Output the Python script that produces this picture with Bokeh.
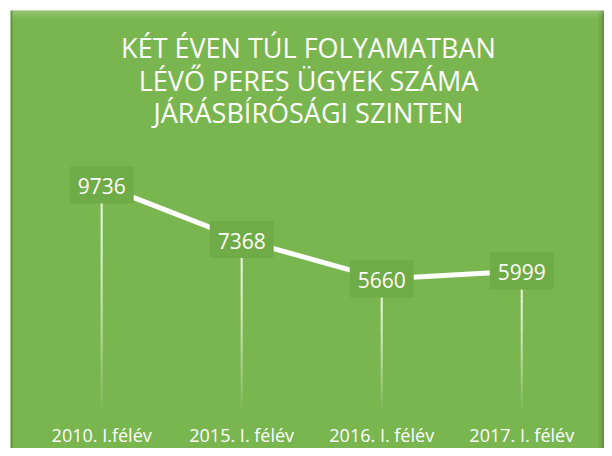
from bokeh.plotting import figure
from bokeh.models import Range1d, Label, ColumnDataSource, BoxAnnotation
from bokeh.core.properties import value
from bokeh.embed import file_html
from bokeh.resources import INLINE

# ---- data ----
categories = ["2010. I.félév", "2015. I. félév", "2016. I. félév", "2017. I. félév"]
values = [9736, 7368, 5660, 5999]
title_lines = ["KÉT ÉVEN TÚL FOLYAMATBAN", "LÉVŐ PERES ÜGYEK SZÁMA", "JÁRÁSBÍRÓSÁGI SZINTEN"]

GREEN = "#7AB650"
BOX = "#6FAC47"
FONT = "Open Sans"

xs = list(range(len(categories)))

W, H = 604, 448
FW, FH = W - 10, H - 10  # frame (green panel) size

p = figure(width=W, height=H, output_backend="svg", toolbar_location=None,
           x_range=Range1d(-0.651, 3.591), y_range=Range1d(-1707, 17320),
           x_axis_location=None, y_axis_location=None,
           min_border_left=10, min_border_right=0, min_border_top=10, min_border_bottom=0)
p.background_fill_color = GREEN
p.border_fill_color = "white"
p.outline_line_color = None
p.grid.visible = False

# panel bevel
for b, a in [(FH - 8, 0.05), (FH - 5, 0.07), (FH - 3, 0.08)]:
    p.add_layout(BoxAnnotation(bottom=b, bottom_units="screen", fill_color="white",
                               fill_alpha=a, line_color=None, level="underlay"))
p.add_layout(BoxAnnotation(right=2, right_units="screen", fill_color="#4F8A30",
                           fill_alpha=0.7, line_color=None, level="underlay"))
for l, a in [(FW - 6, 0.06), (FW - 3, 0.12)]:
    p.add_layout(BoxAnnotation(left=l, left_units="screen", fill_color="black",
                               fill_alpha=a, line_color=None, level="underlay"))

# drop lines with fading gradient
N = 30
sx0, sy0, sx1, sy1, sa = [], [], [], [], []
for x, v in zip(xs, values):
    for k in range(N):
        sx0.append(x); sx1.append(x)
        sy0.append(v * (1 - k / N)); sy1.append(v * (1 - (k + 1) / N))
        sa.append(0.9 - 0.85 * (k / (N - 1)) ** 1.6)
p.segment(x0=sx0, y0=sy0, x1=sx1, y1=sy1, line_color="white", line_alpha=sa, line_width=2)

# main line
p.line(xs, values, line_color="white", line_width=5)

# label boxes
src = ColumnDataSource(dict(x=xs, y=values, t=[str(v) for v in values]))
p.rect(x="x", y="y", width=64, height=37, width_units="screen", height_units="screen",
       fill_color=BOX, line_color=None, source=src)
p.text(x="x", y="y", text="t", source=src, text_align="center", text_baseline="middle",
       text_font=value(FONT), text_font_size="21px", text_color="white", y_offset=1)

# title
for line, y in zip(title_lines, [401, 368.5, 336]):
    p.add_layout(Label(x=298, y=y, x_units="screen", y_units="screen", text=line,
                       text_align="center", text_baseline="middle",
                       text_font=FONT, text_font_size="27px", text_color="white"))

# category labels
for x, c in zip(xs, categories):
    p.add_layout(Label(x=x, y=14, x_units="data", y_units="screen", text=c,
                       text_align="center", text_baseline="middle",
                       text_font=FONT, text_font_size="18px", text_color="white"))

open("out.html", "w").write(file_html(p, INLINE))
